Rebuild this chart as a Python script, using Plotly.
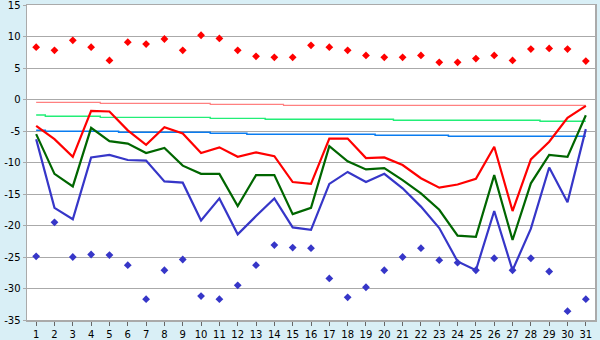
import plotly.graph_objects as go

days = list(range(1, 32))

max_pts = [8.3, 7.8, 9.4, 8.3, 6.2, 9.1, 8.8, 9.6, 7.8, 10.2, 9.7, 7.8, 6.85, 6.7, 6.7,
           8.6, 8.3, 7.8, 7.0, 6.7, 6.7, 7.0, 5.9, 5.9, 6.5, 7.0, 6.2, 8.0, 8.1, 8.0, 6.1]
min_pts = [-24.9, -19.5, -25.0, -24.6, -24.7, -26.3, -31.7, -27.1, -25.4, -31.2, -31.7,
           -29.5, -26.3, -23.1, -23.5, -23.6, -28.4, -31.4, -29.8, -27.1, -25.0, -23.6,
           -25.5, -25.9, -27.1, -25.2, -27.1, -25.2, -27.3, -33.6, -31.7]

t_max = [-4.2, -6.3, -9.1, -1.8, -1.9, -4.9, -7.2, -4.4, -5.4, -8.5, -7.6, -9.1, -8.4,
         -9.0, -13.1, -13.4, -6.2, -6.2, -9.3, -9.2, -10.4, -12.5, -14.0, -13.5, -12.6,
         -7.5, -17.7, -9.5, -6.7, -2.9, -1.0]
t_avg = [-5.5, -11.8, -13.8, -4.5, -6.6, -7.0, -8.5, -7.7, -10.5, -11.8, -11.8, -16.9,
         -12.0, -12.0, -18.2, -17.2, -7.4, -9.8, -11.1, -10.9, -12.8, -14.9, -17.5, -21.6,
         -21.8, -12.0, -22.3, -13.3, -8.8, -9.1, -2.5]
t_min = [-6.3, -17.2, -19.0, -9.2, -8.8, -9.6, -9.7, -13.0, -13.2, -19.2, -15.7, -21.4,
         -18.5, -15.7, -20.3, -20.7, -13.4, -11.5, -13.1, -11.8, -14.1, -17.0, -20.4,
         -25.7, -27.1, -17.7, -27.1, -20.5, -10.8, -16.3, -4.7]

norm_max = [-0.45] * 4 + [-0.6] * 6 + [-0.76] * 4 + [-0.92] * 17
norm_avg = [-2.46] + [-2.67] * 3 + [-2.83] * 6 + [-2.99] * 3 + [-3.14] * 7 + [-3.3] * 8 + [-3.46] * 3
norm_min = [-4.9] + [-5.05] * 4 + [-5.2] * 5 + [-5.37] * 2 + [-5.53] * 7 + [-5.69] * 4 + [-5.85] * 8

y_ticks = [15, 10, 5, 0, -5, -10, -15, -20, -25, -30, -35]

fig = go.Figure()

fig.add_trace(go.Scatter(x=days, y=norm_max, mode="lines", line=dict(color="#ff8080", width=1.2, shape="hvh")))
fig.add_trace(go.Scatter(x=days, y=norm_avg, mode="lines", line=dict(color="#22ee77", width=1.4, shape="hvh")))
fig.add_trace(go.Scatter(x=days, y=norm_min, mode="lines", line=dict(color="#0a7cf0", width=1.5, shape="hvh")))

fig.add_trace(go.Scatter(x=days, y=t_max, mode="lines", line=dict(color="#ff0000", width=2.2)))
fig.add_trace(go.Scatter(x=days, y=t_avg, mode="lines", line=dict(color="#006600", width=2.2)))
fig.add_trace(go.Scatter(x=days, y=t_min, mode="lines", line=dict(color="#3636c8", width=2.2)))

fig.add_trace(go.Scatter(x=days, y=max_pts, mode="markers",
                         marker=dict(symbol="diamond", size=6, color="#ff0000")))
fig.add_trace(go.Scatter(x=days, y=min_pts, mode="markers",
                         marker=dict(symbol="diamond", size=6, color="#3636c8")))

fig.update_layout(
    width=600, height=340,
    margin=dict(l=27, r=5, t=5, b=20, autoexpand=False),
    paper_bgcolor="#d9eff6",
    plot_bgcolor="#ffffff",
    showlegend=False,
    hovermode=False,
    font=dict(family="DejaVu Sans", size=10, color="#000000"),
    xaxis=dict(range=[0.5, 31.5], tickvals=days, ticktext=[str(d) for d in days],
               showgrid=False, zeroline=False, showline=True, mirror=True,
               linecolor="#aaaaaa", linewidth=1.5, ticks="outside", ticklen=4,
               tickcolor="#666666", tickfont=dict(size=10), automargin=False,
               ticklabeloverflow="allow"),
    yaxis=dict(range=[-35, 15], tickvals=y_ticks, ticktext=[str(v) for v in y_ticks],
               showgrid=True, gridcolor="#aaaaaa", gridwidth=1, zeroline=False,
               showline=True, mirror=True, linecolor="#aaaaaa", linewidth=1.5,
               ticks="outside", ticklen=3, tickcolor="#aaaaaa", tickfont=dict(size=10),
               automargin=False, ticklabeloverflow="allow"),
)

fig.write_html("out.html",
               config={"displayModeBar": False, "staticPlot": True},
               post_script="document.body.style.margin='0';document.body.style.overflow='hidden';")
